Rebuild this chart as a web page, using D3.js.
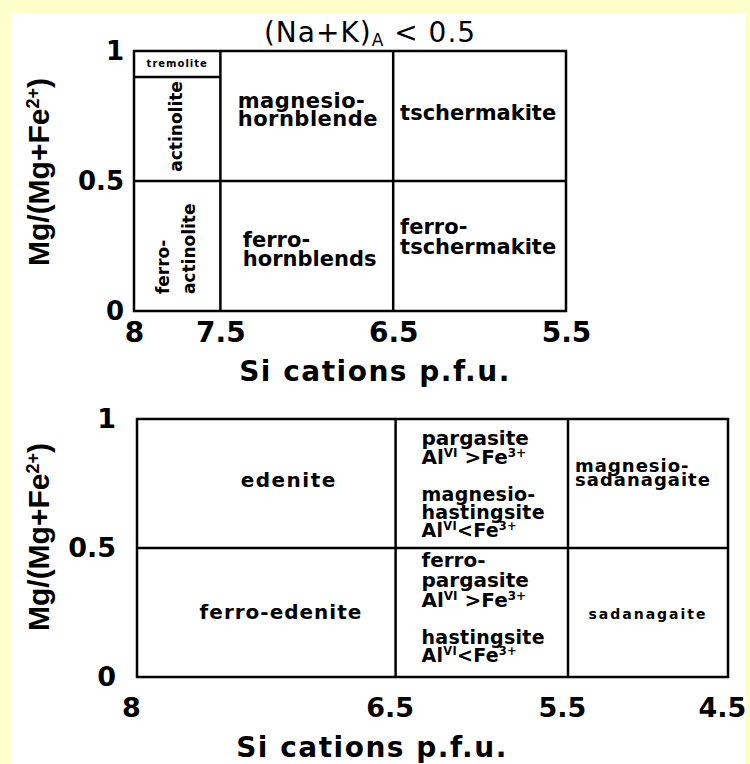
<!DOCTYPE html>
<html>
<head>
<meta charset="utf-8">
<script src="https://cdn.jsdelivr.net/npm/d3@7"></script>
<style>
  body { margin: 0; background: #ffffcc; }
  svg { display: block; }
</style>
</head>
<body>
<div id="chart-container"></div>
<script>
// amphibole classification, (Na+K)A < 0.5
const topXTicks = [8, 7.5, 6.5, 5.5];
const botXTicks = [8, 6.5, 5.5, 4.5];
const yTicks = [0, 0.5, 1];

// field boundaries, in Si / Mg# units
const topLines = [
    { x1: 7.5, y1: 0, x2: 7.5, y2: 1 },
    { x1: 6.5, y1: 0, x2: 6.5, y2: 1 },
    { x1: 8, y1: 0.5, x2: 5.5, y2: 0.5 },
    { x1: 8, y1: 0.9, x2: 7.5, y2: 0.9 }
];
const botLines = [
    { x1: 6.5, y1: 0, x2: 6.5, y2: 1 },
    { x1: 5.5, y1: 0, x2: 5.5, y2: 1 },
    { x1: 8, y1: 0.5, x2: 4.5, y2: 0.5 }
];

// field names, anchored in data units
const topLabels = [
    { id: "tremolite", lines: ["tremolite"], si: 7.75, mg: 0.94 },
    { id: "actinolite", lines: ["actinolite"], si: 7.72, mg: 0.71 },
    { id: "ferro-actinolite", lines: ["ferro-", "actinolite"], si: 7.80, mg: 0.065 },
    { id: "magnesio-hornblende", lines: ["magnesio-", "hornblende"], si: 7.40, mg: 0.78 },
    { id: "ferro-hornblende", lines: ["ferro-", "hornblends"], si: 7.37, mg: 0.246 },
    { id: "tschermakite", lines: ["tschermakite"], si: 6.46, mg: 0.735 },
    { id: "ferro-tschermakite", lines: ["ferro-", "tschermakite"], si: 6.46, mg: 0.296 }
];
const botLabels = [
    { id: "edenite", lines: ["edenite"], si: 7.12, mg: 0.736 },
    { id: "ferro-edenite", lines: ["ferro-edenite"], si: 7.165, mg: 0.225 },
    { id: "pargasite", lines: ["pargasite", "Al^{VI} >Fe^{3+}"], si: 6.35, mg: 0.90 },
    { id: "magnesio-hastingsite", lines: ["magnesio-", "hastingsite", "Al^{VI}<Fe^{3+}"], si: 6.35, mg: 0.682 },
    { id: "ferro-pargasite", lines: ["ferro-", "pargasite", "Al^{VI} >Fe^{3+}"], si: 6.35, mg: 0.426 },
    { id: "hastingsite", lines: ["hastingsite", "Al^{VI}<Fe^{3+}"], si: 6.35, mg: 0.128 },
    { id: "magnesio-sadanagaite", lines: ["magnesio-", "sadanagaite"], si: 5.456, mg: 0.795 },
    { id: "sadanagaite", lines: ["sadanagaite"], si: 5.0, mg: 0.225 }
];

const labelStyle = {
    "tremolite": { size: 10, ls: 1, anchor: "middle" },
    "actinolite": { size: 17, anchor: "middle", rotate: true },
    "ferro-actinolite": { size: 17, anchor: "start", rotate: true, lh: 26 },
    "magnesio-hornblende": { size: 21, ls: 0.5, lh: 18 },
    "ferro-hornblende": { size: 21, lh: 19 },
    "tschermakite": { size: 21 },
    "ferro-tschermakite": { size: 21, lh: 20 },
    "edenite": { size: 20, ls: 1.5, anchor: "middle" },
    "ferro-edenite": { size: 20, ls: 1, anchor: "middle" },
    "pargasite": { size: 20, lh: 19 },
    "magnesio-hastingsite": { size: 19, ls: 0.3, lh: 18 },
    "ferro-pargasite": { size: 20, lh: 20 },
    "hastingsite": { size: 19, ls: 0.3, lh: 18 },
    "magnesio-sadanagaite": { size: 18, ls: 1, lh: 14 },
    "sadanagaite": { size: 14, ls: 2, anchor: "middle" }
};

const W = 750, H = 764;
const labelFont = "'DejaVu Sans', sans-serif";
const titleFont = "'Liberation Sans', Arial, sans-serif";

const svg = d3.select("#chart-container")
    .append("svg")
    .attr("width", W)
    .attr("height", H);

// white slide panel on yellow
svg.append("rect")
    .attr("x", 11).attr("y", 13)
    .attr("width", 734).attr("height", H - 13)
    .attr("fill", "#ffffff");

// title
const title = svg.append("text")
    .attr("x", 370).attr("y", 42)
    .attr("text-anchor", "middle")
    .style("font-family", labelFont)
    .style("font-size", "28px")
    .style("letter-spacing", "1px")
    .attr("fill", "#000");
title.append("tspan").text("(Na+K)");
title.append("tspan").attr("baseline-shift", "-25%").style("font-size", "17px").text("A");
title.append("tspan").text(" < 0.5");

// scales
const topX = d3.scaleLinear().domain([8, 5.5]).range([134, 566]);
const topY = d3.scaleLinear().domain([0, 1]).range([311, 51]);
const botX = d3.scaleLinear().domain([8, 5.5, 4.5]).range([137, 568, 728]);
const botY = d3.scaleLinear().domain([0, 1]).range([677, 419]);

function addRichText(sel, str) {
    const parts = str.split(/\^\{([^}]*)\}/);
    parts.forEach((p, i) => {
        if (!p) return;
        const t = sel.append("tspan").text(p);
        if (i % 2 === 1) t.attr("baseline-shift", "super").style("font-size", "60%");
    });
}

function drawDiagram(x, y, xTicks, lines, labels, opt) {
    const g = svg.append("g");

    // frame
    g.append("rect")
        .attr("x", x(8)).attr("y", y(1))
        .attr("width", x(xTicks[xTicks.length - 1]) - x(8))
        .attr("height", y(0) - y(1))
        .attr("fill", "none")
        .attr("stroke", "#000")
        .attr("stroke-width", 2.5);

    g.selectAll(".bound")
        .data(lines)
        .join("line")
        .attr("x1", d => x(d.x1)).attr("x2", d => x(d.x2))
        .attr("y1", d => y(d.y1)).attr("y2", d => y(d.y2))
        .attr("stroke", "#000")
        .attr("stroke-width", 2.5);

    // x axis
    g.append("g")
        .attr("transform", `translate(${opt.dx},${y(0)})`)
        .call(d3.axisBottom(x).tickValues(xTicks).tickSize(0).tickPadding(opt.xPad).tickFormat(d => d))
        .call(a => a.select(".domain").remove())
        .selectAll("text")
        .attr("fill", "#000")
        .style("font-family", labelFont)
        .style("font-weight", "bold")
        .style("font-size", opt.xSize + "px");

    // y axis
    g.append("g")
        .attr("transform", `translate(${x(8)},0)`)
        .call(d3.axisLeft(y).tickValues(yTicks).tickSize(0).tickPadding(opt.yPad).tickFormat(d => d))
        .call(a => a.select(".domain").remove())
        .selectAll("text")
        .attr("fill", "#000")
        .style("font-family", labelFont)
        .style("font-weight", "bold")
        .style("font-size", opt.ySize + "px");

    // axis titles
    g.append("text")
        .attr("x", opt.xTitleX).attr("y", opt.xTitleY)
        .attr("text-anchor", "middle")
        .style("font-family", labelFont)
        .style("font-weight", "bold")
        .style("font-size", "28px")
        .style("letter-spacing", "1.5px")
        .text("Si cations p.f.u.");

    const yt = g.append("text")
        .attr("transform", `translate(49,${opt.yTitleY}) rotate(-90)`)
        .attr("text-anchor", "middle")
        .style("font-family", titleFont)
        .style("font-weight", "bold")
        .style("font-size", "30px");
    addRichText(yt, "Mg/(Mg+Fe^{2+})");

    // field names
    labels.forEach(d => {
        const s = labelStyle[d.id];
        const px = x(d.si), py = y(d.mg);
        const t = g.append("text")
            .attr("text-anchor", s.anchor || "start")
            .attr("fill", "#000")
            .style("font-family", labelFont)
            .style("font-weight", "bold")
            .style("font-size", s.size + "px")
            .style("letter-spacing", (s.ls || 0) + "px");
        if (s.rotate) t.attr("transform", `translate(${px},${py}) rotate(-90)`);
        else t.attr("transform", `translate(${px},${py})`);
        d.lines.forEach((ln, i) => {
            const sp = t.append("tspan")
                .attr("x", 0)
                .attr("dy", i === 0 ? 0 : (s.lh || 18));
            addRichText(sp, ln);
        });
    });
}

drawDiagram(topX, topY, topXTicks, topLines, topLabels, {
    dx: 0, xPad: 11, xSize: 28, yPad: 10, ySize: 26,
    xTitleX: 375, xTitleY: 381, yTitleY: 172
});

drawDiagram(botX, botY, botXTicks, botLines, botLabels, {
    dx: -6, xPad: 21, xSize: 27, yPad: 21, ySize: 27,
    xTitleX: 372, xTitleY: 757, yTitleY: 537
});
</script>
</body>
</html>
